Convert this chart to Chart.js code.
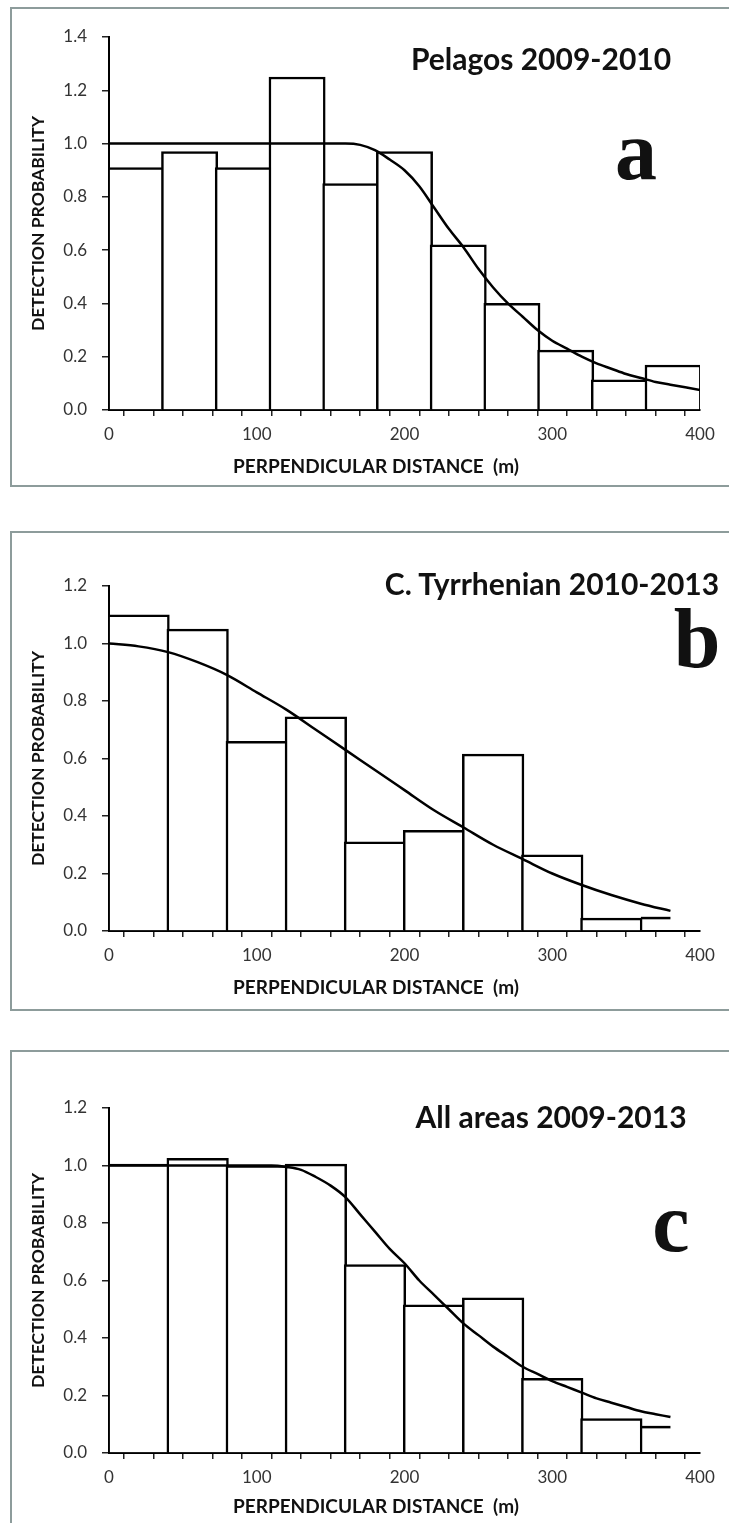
<!DOCTYPE html>
<html>
<head>
<meta charset="utf-8">
<script src="https://cdn.jsdelivr.net/npm/chart.js@4/dist/chart.umd.min.js"></script>
<style>
  body { margin: 0; width: 729px; height: 1523px; overflow: hidden; background: #fff; position: relative; font-family: Lato, sans-serif; }
  .frame { position: absolute; left: 10px; width: 740px; box-sizing: border-box; border: 2px solid #8d9c9b; }
  canvas { position: absolute; left: 0; }
  .txt { position: absolute; transform: translate(-50%, -50%); white-space: nowrap; color: #111; }
  .title { font: bold 30px Lato, sans-serif; }
  .letter { font: bold 84px "Liberation Serif", serif; }
  .xtitle { font: bold 19px Lato, sans-serif; }
</style>
</head>
<body>
<div class="frame" style="top:7px; height:480px;"></div>
<div class="frame" style="top:531px; height:480px;"></div>
<div class="frame" style="top:1050px; height:500px;"></div>

<canvas id="chartA" width="729" height="479" style="top:7px"></canvas>
<canvas id="chartB" width="729" height="479" style="top:531px"></canvas>
<canvas id="chartC" width="729" height="479" style="top:1050px"></canvas>

<div class="txt title" style="left:541px; top:58px;">Pelagos 2009-2010</div>
<div class="txt letter" style="left:636px; top:150px;">a</div>
<div class="txt xtitle" style="left:376px; top:465px;">PERPENDICULAR DISTANCE&nbsp;&nbsp;(m)</div>

<div class="txt title" style="left:552px; top:583px;">C. Tyrrhenian 2010-2013</div>
<div class="txt letter" style="left:697px; top:638px;">b</div>
<div class="txt xtitle" style="left:376px; top:986px;">PERPENDICULAR DISTANCE&nbsp;&nbsp;(m)</div>

<div class="txt title" style="left:551px; top:1116px;">All areas 2009-2013</div>
<div class="txt letter" style="left:671px; top:1222px;">c</div>
<div class="txt xtitle" style="left:376px; top:1505px;">PERPENDICULAR DISTANCE&nbsp;&nbsp;(m)</div>

<script>
// panel a - Pelagos 2009-2010
const edgesA = [0, 36.4, 72.7, 109.1, 145.5, 181.8, 218.2, 254.5, 290.9, 327.3, 363.6, 400];
const barsA = [0.91, 0.97, 0.91, 1.25, 0.85, 0.97, 0.62, 0.40, 0.225, 0.113, 0.169];
const curveXA = [0, 50, 100, 150, 160, 170, 180, 190, 200, 210, 220, 230, 240, 250, 260, 270, 280, 290, 300, 310, 320, 330, 340, 350, 360, 370, 380, 390, 400];
const curveYA = [1, 1, 1, 1, 1.0, 0.995, 0.975, 0.94, 0.90, 0.84, 0.76, 0.68, 0.61, 0.53, 0.46, 0.40, 0.35, 0.30, 0.26, 0.23, 0.20, 0.175, 0.155, 0.135, 0.12, 0.105, 0.095, 0.085, 0.075];

// panel b - C. Tyrrhenian 2010-2013
const edgesB = [0, 40, 80, 120, 160, 200, 240, 280, 320, 360];
const barsB = [1.10, 1.05, 0.66, 0.745, 0.31, 0.35, 0.615, 0.265, 0.045];
const tailXB = [360, 380];
const tailYB = [0.045, 0.045];
const curveXB = [0, 20, 40, 60, 80, 100, 120, 140, 160, 180, 200, 220, 240, 260, 280, 300, 320, 340, 360, 380];
const curveYB = [1.0, 0.99, 0.97, 0.935, 0.89, 0.83, 0.77, 0.70, 0.63, 0.56, 0.49, 0.42, 0.36, 0.30, 0.25, 0.20, 0.16, 0.125, 0.095, 0.07];

// panel c - All areas 2009-2013
const edgesC = [0, 40, 80, 120, 160, 200, 240, 280, 320, 360];
const barsC = [1.005, 1.025, 1.0, 1.005, 0.655, 0.515, 0.54, 0.26, 0.12];
const tailXC = [360, 380];
const tailYC = [0.09, 0.09];
const curveXC = [0, 50, 100, 110, 120, 130, 140, 150, 160, 170, 180, 190, 200, 210, 220, 230, 240, 250, 260, 270, 280, 290, 300, 310, 320, 330, 340, 350, 360, 370, 380];
const curveYC = [1, 1, 1, 1.0, 0.995, 0.985, 0.96, 0.93, 0.89, 0.83, 0.77, 0.71, 0.66, 0.60, 0.55, 0.50, 0.45, 0.41, 0.37, 0.335, 0.30, 0.275, 0.25, 0.23, 0.21, 0.19, 0.175, 0.16, 0.145, 0.135, 0.125];

// x ticks every 20 m, labels every 100 m
const xStep = 20;
const xMax = 400;

// canvas layout
const canvasW = 729, canvasH = 479;
const padLeft = 26, yAxisW = 83, padRight = 29;
const plotW = canvasW - padLeft - yAxisW - padRight;
const barLine = 2.5;

function pts(xs, ys) {
  return xs.map(function (x, i) { return { x: x, y: ys[i] }; });
}

function binPts(edges, vals) {
  return vals.map(function (v, i) { return { x: (edges[i] + edges[i + 1]) / 2, y: v }; });
}

function creaPanel(id, edges, bars, curveX, curveY, tailX, tailY, yMax, topPad) {
  var binWidth = edges[1] - edges[0];
  var datasets = [{
    type: 'line',
    data: pts(curveX, curveY),
    borderColor: '#000',
    borderWidth: 2.5,
    pointRadius: 0,
    cubicInterpolationMode: 'monotone',
    order: 0
  }, {
    type: 'bar',
    data: binPts(edges, bars),
    backgroundColor: '#fff',
    borderColor: '#000',
    borderWidth: barLine,
    // bin width in pixels, plus one border so neighbours share a single edge line
    barThickness: binWidth * plotW / xMax + barLine,
    order: 2
  }];
  if (tailX) {
    datasets.push({
      type: 'line',
      data: pts(tailX, tailY),
      borderColor: '#000',
      borderWidth: barLine,
      pointRadius: 0,
      order: 1
    });
  }

  var plotH = yMax === 1.4 ? 373 : 345;
  var ctx = document.getElementById(id).getContext('2d');
  return new Chart(ctx, {
    type: 'bar',
    data: { datasets: datasets },
    options: {
      responsive: false,
      animation: false,
      events: [],
      layout: { padding: { left: padLeft, right: padRight, top: topPad, bottom: 0 } },
      plugins: { legend: { display: false }, tooltip: { enabled: false } },
      scales: {
        x: {
          type: 'linear',
          min: 0,
          max: xMax,
          offset: false,
          grid: { drawOnChartArea: false, color: '#222', lineWidth: 1.5, tickLength: 6 },
          border: { color: '#000', width: 2 },
          ticks: {
            stepSize: xStep,
            autoSkip: false,
            maxRotation: 0,
            padding: 8,
            color: '#333',
            font: { family: 'Lato', size: 17 },
            callback: function (v) { return v % 100 === 0 ? String(v) : ''; }
          },
          afterFit: function (scale) { scale.height = canvasH - topPad - plotH; }
        },
        y: {
          min: 0,
          max: yMax,
          grid: { drawOnChartArea: false, color: '#222', lineWidth: 1.5, tickLength: 7 },
          border: { color: '#000', width: 2 },
          ticks: {
            stepSize: 0.2,
            padding: 15,
            color: '#333',
            font: { family: 'Lato', size: 17 },
            callback: function (v) { return v.toFixed(1); }
          },
          title: {
            display: true,
            text: 'DETECTION PROBABILITY',
            color: '#111',
            font: { family: 'Lato', size: 17.5, weight: 'bold' },
            padding: { top: 2, bottom: 0 }
          },
          afterFit: function (scale) { scale.width = yAxisW; }
        }
      }
    }
  });
}

creaPanel('chartA', edgesA, barsA, curveXA, curveYA, null, null, 1.4, 30);
creaPanel('chartB', edgesB, barsB, curveXB, curveYB, tailXB, tailYB, 1.2, 55);
creaPanel('chartC', edgesC, barsC, curveXC, curveYC, tailXC, tailYC, 1.2, 58);
</script>
</body>
</html>
